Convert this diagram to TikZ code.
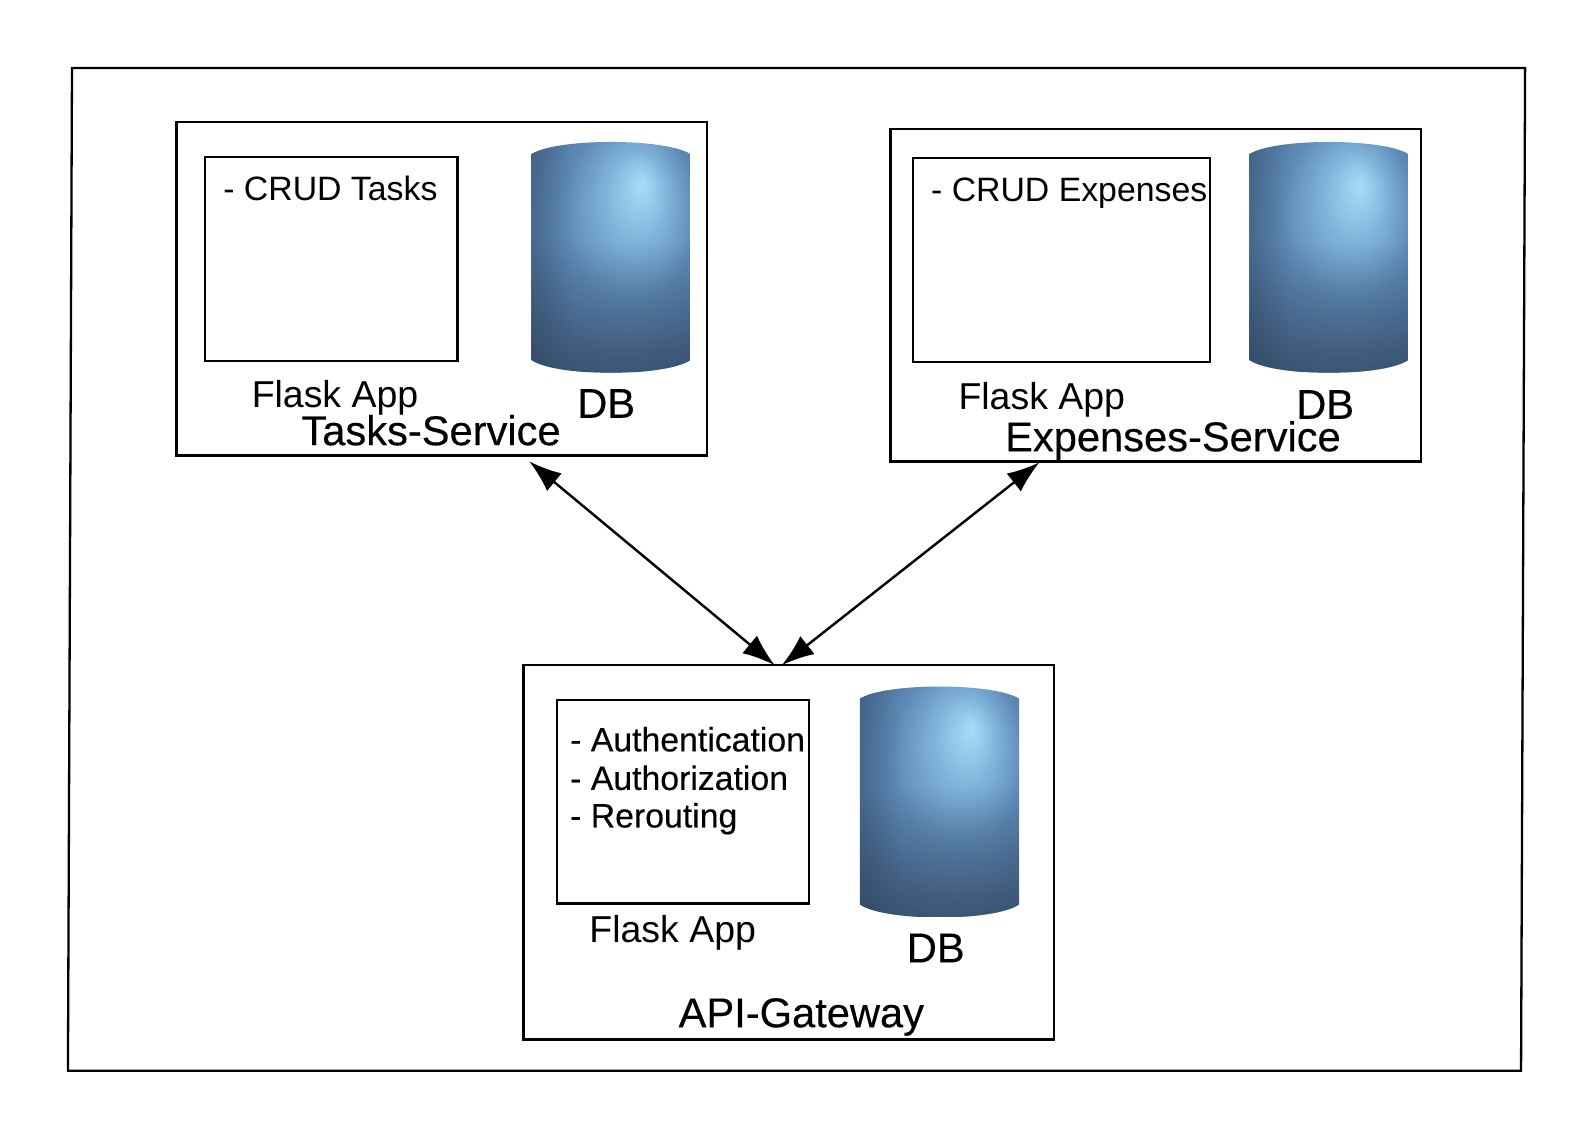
\documentclass[tikz,border=0pt]{standalone}
\usepackage{fontspec}
\setmainfont{Liberation Sans}
\newfontfamily\heavyfont[FakeBold=0.3]{Liberation Sans}
\usetikzlibrary{arrows.meta}
\usetikzlibrary{fadings}
\definecolor{cylGlow}{HTML}{A9DDF6}
\definecolor{cylA}{HTML}{7FB2DA}
\definecolor{cylB}{HTML}{5F8BB8}
\definecolor{cylC}{HTML}{4A6E96}
\definecolor{cylD}{HTML}{3F5F85}
\definecolor{cylLow}{HTML}{2F4159}
\pgfdeclareradialshading{dbglow}{\pgfpoint{10bp}{16bp}}{color(0bp)=(cylGlow);
  color(10bp)=(cylA); color(20bp)=(cylB); color(35bp)=(cylC); color(50bp)=(cylD)}
\tikzset{
  boxline/.style={draw=black,line width=1.7pt,inner sep=0pt,anchor=north west},
  boxsize/.style 2 args={boxline,minimum width=#1*0.75pt,minimum height=#2*0.75pt},
  smalltext/.style={anchor=base west,inner sep=0pt,font=\fontsize{25}{30}\selectfont},
  heavytext/.style={anchor=base west,inner sep=0pt,font=\heavyfont\fontsize{25}{30}\selectfont},
  applabel/.style={anchor=base west,inner sep=0pt,font=\fontsize{27.7}{33}\selectfont},
  bigtext/.style={anchor=base west,inner sep=0pt,font=\heavyfont\fontsize{30.8}{37}\selectfont},
  link/.style={line width=1.8pt,{Latex[length=24pt,width=17pt]}-{Latex[length=24pt,width=17pt]}},
  pics/dbcyl/.style={code={
    \path[clip] (0,12) .. controls (25,-4) and (132,-4) .. (157,12) -- (157,215)
      .. controls (132,232) and (25,232) .. (0,215) -- cycle;
    \shade[shading=dbglow] (0,0) rectangle (157,227);
    \fill[cylLow,opacity=0.6,path fading=north] (0,100) rectangle (157,227);
    \fill[cylLow,opacity=0.3,path fading=east] (0,0) rectangle (40,227);
  }}
}
\begin{document}
\begin{tikzpicture}[x=0.75pt,y=-0.75pt]
  \useasboundingbox (0,0) rectangle (1568,1108.6);
  % frame
  \draw[line width=1.7pt] (71,67) -- (1504,67) -- (1500,1056) -- (67,1056) -- cycle;
  % tasks
  \node[boxsize={523}{329}] (tasks) at (173,119) {};
  \node[boxsize={249}{201}] (tasksapp) at (201,154) {};
  \pic at (524,140) {dbcyl};
  \node[smalltext] (tasksjob) at (220,198) {- CRUD Tasks};
  \node[applabel] (taskslabel) at (248,402) {Flask App};
  \node[bigtext] (taskstitle) at (297,439) {Tasks-Service};
  \node[bigtext] (tasksdb) at (569,412) {DB};
  % expenses
  \node[boxsize={523}{328}] (exp) at (877,126) {};
  \node[boxsize={293}{201}] (expapp) at (899,155) {};
  \pic at (1232,140) {dbcyl};
  \node[smalltext] (expjob) at (918,199) {- CRUD Expenses};
  \node[applabel] (explabel) at (945,404) {Flask App};
  \node[bigtext] (exptitle) at (991,445) {Expenses-Service};
  \node[bigtext] (expdb) at (1278,413) {DB};
  % gateway
  \node[boxsize={523}{369}] (gate) at (515,655) {};
  \node[boxsize={249}{201}] (gateapp) at (548,689) {};
  \pic at (848,677) {dbcyl};
  \node[heavytext] (gatea) at (562,741) {- Authentication};
  \node[heavytext] (gateb) at (562,779) {- Authorization};
  \node[heavytext] (gatec) at (562,816) {- Rerouting};
  \node[applabel] (gatelabel) at (581,929) {Flask App};
  \node[bigtext] (gatetitle) at (669,1013) {API-Gateway};
  \node[bigtext] (gatedb) at (894,949) {DB};
  % links
  \coordinate (gl) at (764,656);
  \coordinate (gr) at (771,656);
  \coordinate (tl) at (522,455);
  \coordinate (el) at (1025,456);
  \draw[link] (tl) -- (gl);
  \draw[link] (el) -- (gr);
\end{tikzpicture}
\end{document}
